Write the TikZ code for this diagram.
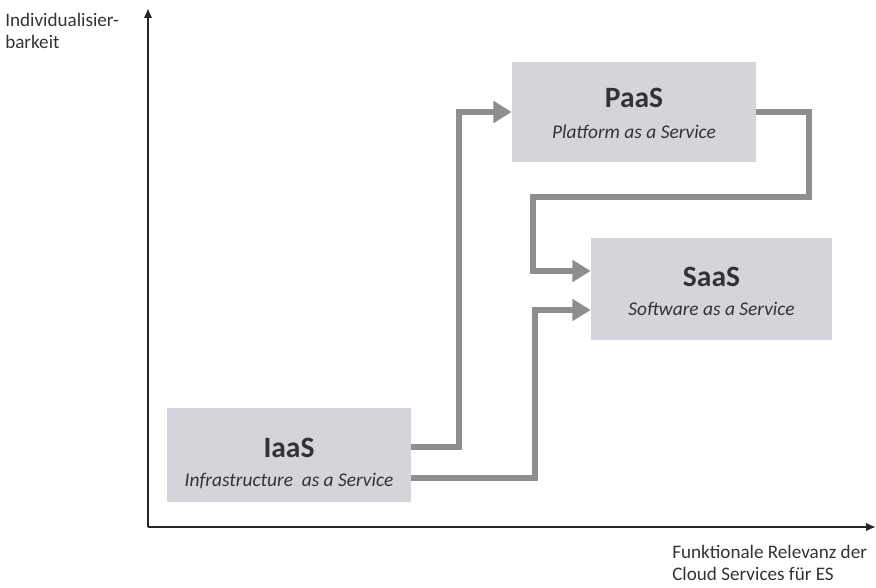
\documentclass[tikz,border=0pt]{standalone}
\usepackage{fontspec}
\setmainfont{Carlito}
\usetikzlibrary{arrows.meta}
\definecolor{boxgray}{HTML}{D4D5DA}
\definecolor{linegray}{HTML}{8E8E8E}
\definecolor{txt}{HTML}{333333}
\begin{document}
\begin{tikzpicture}[
  x=0.025cm, y=-0.025cm,
  box/.style={fill=boxgray, minimum width=6.1cm, minimum height=2.4cm, inner sep=0pt},
  title/.style={text=txt, inner sep=0pt, anchor=base, font=\fontsize{21}{25}\selectfont\bfseries},
  sub/.style={text=txt, inner sep=0pt, anchor=base, font=\fontsize{13.8}{16}\selectfont\itshape},
  conn/.style={linegray, line width=4.3pt, -{Triangle[length=13pt,width=15pt]}},
  axis/.style={black!85, line width=1.4pt, -{Latex[length=7pt,width=6pt]}},
  lab/.style={text=txt, align=left, inner sep=0pt, font=\fontsize{13.6}{15.8}\selectfont}
]
\useasboundingbox (0,0) rectangle (876,587);

% axes
\coordinate (o) at (148,527);
\coordinate (ytop) at (148,8);
\coordinate (xend) at (876,527);
\draw[axis] (o) -- (ytop);
\draw[axis] (o) -- (xend);
\node[lab, anchor=north west] (ylab) at (5,13) {Individualisier-\\barkeit};
\node[lab, anchor=north west] (xlab) at (672,545) {Funktionale Relevanz der\\Cloud Services für ES};

% boxes
\node[box, minimum height=2.35cm] (iaas) at (289,455) {};
\node[box, minimum height=2.5cm] (paas) at (634,112) {};
\node[box, minimum width=6.025cm, minimum height=2.55cm] (saas) at (711.5,289) {};
\node[title] (iaast) at ([yshift=-2pt]iaas.center) {IaaS};
\node[sub] (iaass) at ([yshift=-22.7pt]iaas.center) {Infrastructure\ \ as a Service};
\node[title] (paast) at ([yshift=3pt]paas.center) {PaaS};
\node[sub] (paass) at ([yshift=-18.5pt]paas.center) {Platform as a Service};
\node[title] (saast) at ([yshift=1.5pt]saas.center) {SaaS};
\node[sub] (saass) at ([yshift=-18.5pt]saas.center) {Software as a Service};

% connectors
\coordinate (j1) at (459,0);
\coordinate (j2) at (535,0);
\coordinate (j3) at (809,197);
\coordinate (j4) at (533,197);
\coordinate (s1) at ([yshift=0.45cm]saas.west);
\coordinate (s2) at ([yshift=-0.525cm]saas.west);
\draw[conn] ([yshift=0.2cm]iaas.east) -| (j1 |- paas.west) -- (paas.west);
\draw[conn] ([yshift=-0.575cm]iaas.east) -| (j2 |- s2) -- (s2);
\draw[conn] (paas.east) -| (j3) -- (j4) |- (s1);
\end{tikzpicture}
\end{document}
